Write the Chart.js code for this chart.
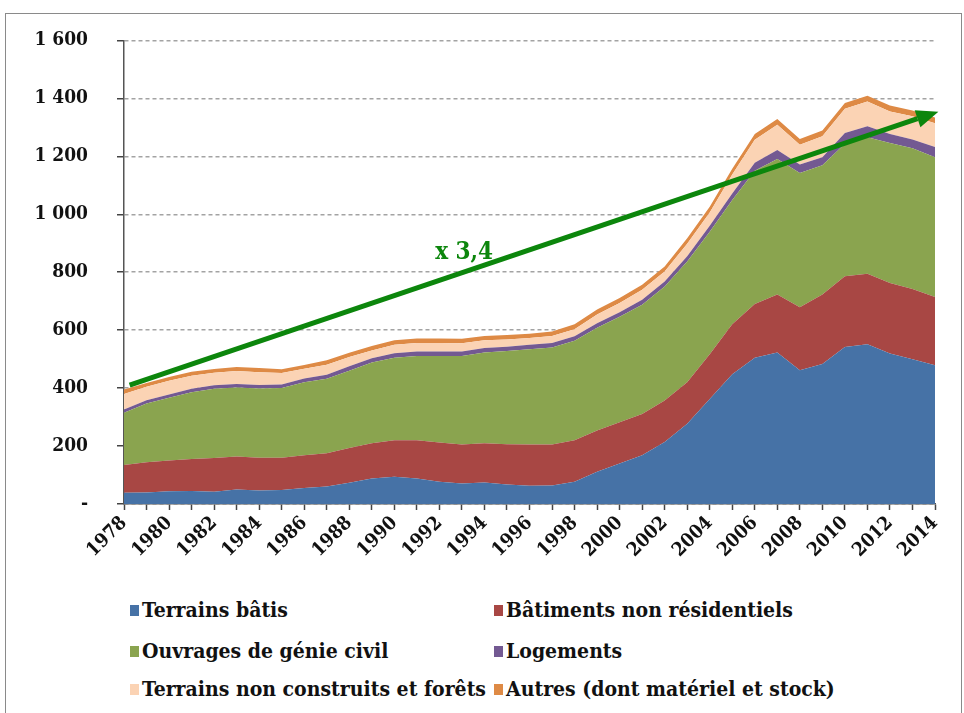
<!DOCTYPE html>
<html>
<head>
<meta charset="utf-8">
<script src="https://cdn.jsdelivr.net/npm/chart.js@4.4.1/dist/chart.umd.min.js"></script>
<style>
    body { margin: 0; background: #fff; }
    #frame { position: absolute; left: 5px; top: 13px; width: 957px; height: 720px; border: 1px solid #8a8a8a; box-sizing: border-box; }
    #wrap { position: absolute; left: 0; top: 0; width: 964px; height: 566px; }
    #legend { position: absolute; left: 130px; top: 597px; width: 800px; }
    .item { position: absolute; font-family: 'DejaVu Serif Condensed', 'DejaVu Serif', serif; font-weight: bold; font-size: 21px; color: #111; white-space: nowrap; }
    .item span.box { display: inline-block; width: 9px; height: 11px; margin-right: 3px; vertical-align: 1px; }
</style>
</head>
<body>
<div id="frame"></div>
<div id="wrap"><canvas id="chart"></canvas></div>
<div id="legend"></div>
<script>
const years = ['1978','1979','1980','1981','1982','1983','1984','1985','1986','1987','1988','1989','1990',
    '1991','1992','1993','1994','1995','1996','1997','1998','1999','2000','2001','2002','2003','2004',
    '2005','2006','2007','2008','2009','2010','2011','2012','2013','2014'];

const terrainsBatis = [39,40,44,45,42,50,47,48,55,60,73,88,94,88,77,71,74,67,63,64,77,111,140,168,214,277,362,448,505,523,462,483,542,551,519,500,479];
const batimentsNonRes = [96,104,106,110,117,114,113,112,113,115,120,122,126,132,135,134,136,139,142,141,143,143,142,143,143,143,155,172,185,200,217,240,244,244,244,242,235];
const genieCivil = [180,203,217,231,239,238,239,240,252,257,267,278,285,291,299,306,313,322,329,335,343,354,364,377,394,417,423,429,460,468,463,446,457,471,483,486,483];
const logements = [11,11,11,12,12,12,12,12,13,14,15,15,15,15,15,15,15,15,16,16,16,16,16,17,17,18,20,23,28,31,30,28,37,38,31,30,35];
const terrainsNonConstruits = [54,47,47,45,43,45,44,40,34,35,32,27,30,30,30,29,27,25,23,24,24,30,32,34,34,43,46,65,79,87,68,72,84,85,78,80,82];
const autres = [15,13,13,13,13,14,14,13,13,15,15,15,15,15,15,15,15,15,15,15,17,17,17,18,18,19,20,20,20,20,20,20,20,20,20,20,20];

const seriesNames = ['Terrains bâtis', 'Bâtiments non résidentiels', 'Ouvrages de génie civil',
    'Logements', 'Terrains non construits et forêts', 'Autres (dont matériel et stock)'];
const seriesColors = ['#4672a6', '#a84744', '#8aa44f', '#735992', '#fbd3b4', '#de8a45'];

const yTickLabels = ['-', '200', '400', '600', '800', '1 000', '1 200', '1 400', '1 600'];

// green trend arrow, in (year index, value)
const arrowFrom = [0.25, 410];
const arrowTo = [36.15, 1354];
const arrowLabel = 'x 3,4';
const arrowLabelAt = [15.1, 866];

const allSeries = [terrainsBatis, batimentsNonRes, genieCivil, logements, terrainsNonConstruits, autres];

const datasets = allSeries.map((values, i) => ({
    label: seriesNames[i],
    data: values,
    backgroundColor: seriesColors[i],
    borderWidth: 0,
    pointRadius: 0,
    tension: 0,
    fill: i === 0 ? 'origin' : '-1'
}));

const tickFont = { family: '"DejaVu Serif Condensed", "DejaVu Serif", serif', weight: 'bold', size: 19 };

const arrowPlugin = {
    id: 'arrow',
    afterDatasetsDraw(chart) {
        const ctx = chart.ctx;
        const xs = chart.scales.x, ys = chart.scales.y;
        const x1 = xs.getPixelForValue(arrowFrom[0]), y1 = ys.getPixelForValue(arrowFrom[1]);
        const x2 = xs.getPixelForValue(arrowTo[0]), y2 = ys.getPixelForValue(arrowTo[1]);
        const ang = Math.atan2(y2 - y1, x2 - x1);
        const headLen = 22, headW = 9;
        const bx = x2 - headLen * Math.cos(ang), by = y2 - headLen * Math.sin(ang);

        ctx.save();
        ctx.strokeStyle = '#0c860c';
        ctx.fillStyle = '#0c860c';
        ctx.lineWidth = 5;
        ctx.beginPath();
        ctx.moveTo(x1, y1);
        ctx.lineTo(bx, by);
        ctx.stroke();

        ctx.beginPath();
        ctx.moveTo(x2, y2);
        ctx.lineTo(bx + headW * Math.sin(ang), by - headW * Math.cos(ang));
        ctx.lineTo(bx - headW * Math.sin(ang), by + headW * Math.cos(ang));
        ctx.closePath();
        ctx.fill();

        ctx.font = 'bold 24px "DejaVu Serif Condensed", "DejaVu Serif", serif';
        ctx.textAlign = 'center';
        ctx.textBaseline = 'middle';
        ctx.fillText(arrowLabel, xs.getPixelForValue(arrowLabelAt[0]), ys.getPixelForValue(arrowLabelAt[1]));
        ctx.restore();
    }
};

new Chart(document.getElementById('chart'), {
    type: 'line',
    data: { labels: years, datasets: datasets },
    plugins: [arrowPlugin],
    options: {
        responsive: true,
        maintainAspectRatio: false,
        animation: false,
        layout: { padding: { top: 38, right: 29, left: 0, bottom: 0 } },
        plugins: { legend: { display: false }, tooltip: { enabled: false } },
        scales: {
            x: {
                offset: false,
                afterFit: (s) => { s.height = 62; },
                border: { color: '#555', width: 1.5 },
                grid: { drawOnChartArea: false, drawTicks: true, tickLength: 6, tickColor: '#444', tickWidth: 1.5, tickBorderDash: [] },
                ticks: {
                    autoSkip: false,
                    minRotation: 45,
                    maxRotation: 45,
                    padding: 2,
                    color: '#111',
                    font: tickFont,
                    callback: (v, i) => (i % 2 === 0 ? years[i] : '')
                }
            },
            y: {
                stacked: true,
                min: 0,
                max: 1600,
                afterFit: (s) => { s.width = 124; },
                border: { color: '#555', width: 1.5, dash: [4, 3] },
                grid: { color: '#a3a3a3', lineWidth: 1.5, tickLength: 7, tickColor: '#444', tickWidth: 1.5, tickBorderDash: [] },
                ticks: {
                    stepSize: 200,
                    padding: 29,
                    color: '#111',
                    font: tickFont,
                    callback: (v) => yTickLabels[Math.round(v / 200)]
                }
            }
        }
    }
});

// two-column legend under the chart
const legend = document.getElementById('legend');
const legendPos = [[0, 0], [364, 0], [0, 41], [364, 41], [0, 79], [364, 79]];
seriesNames.forEach((name, i) => {
    const el = document.createElement('div');
    el.className = 'item';
    el.style.left = legendPos[i][0] + 'px';
    el.style.top = legendPos[i][1] + 'px';
    el.innerHTML = `<span class="box" style="background:${seriesColors[i]}"></span>${name}`;
    legend.appendChild(el);
});
</script>
</body>
</html>
